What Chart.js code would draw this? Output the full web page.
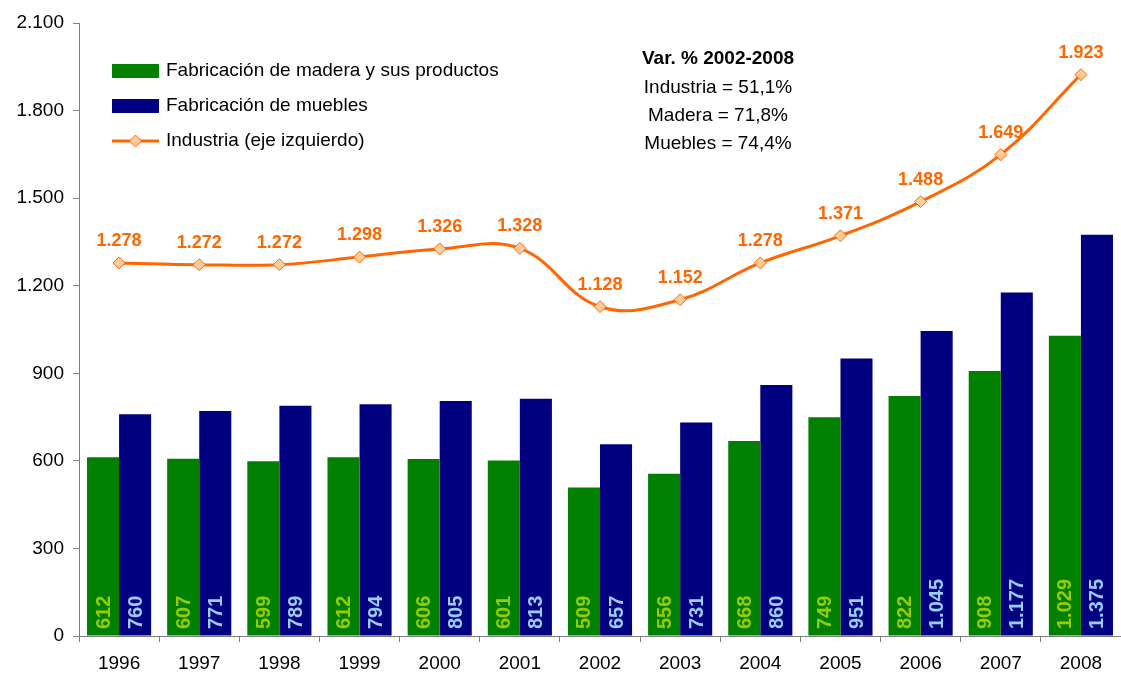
<!DOCTYPE html>
<html>
<head>
<meta charset="utf-8">
<script src="https://cdn.jsdelivr.net/npm/chart.js@4.4.0/dist/chart.umd.min.js"></script>
<style>
  html, body { margin: 0; padding: 0; background: #fff; }
  #wrap { width: 1121px; height: 675px; position: relative; }
</style>
</head>
<body>
<div id="wrap"><canvas id="grafico"></canvas></div>
<script>
// --- datos ---
const anios = ['1996', '1997', '1998', '1999', '2000', '2001', '2002', '2003', '2004', '2005', '2006', '2007', '2008'];
const madera = [612, 607, 599, 612, 606, 601, 509, 556, 668, 749, 822, 908, 1029];
const muebles = [760, 771, 789, 794, 805, 813, 657, 731, 860, 951, 1045, 1177, 1375];
const industria = [1278, 1272, 1272, 1298, 1326, 1328, 1128, 1152, 1278, 1371, 1488, 1649, 1923];
const ejeY = { min: 0, max: 2100, paso: 300 };
const notaTitulo = 'Var. % 2002-2008';
const notaLineas = ['Industria = 51,1%', 'Madera = 71,8%', 'Muebles = 74,4%'];

const FUENTE = '"Liberation Sans", Arial, sans-serif';
const VERDE = '#008000', AZUL = '#000080', NARANJA = '#FF6600';

function miles(v) {
    return String(v).replace(/\B(?=(\d{3})+(?!\d))/g, '.');
}

// etiquetas de valores (barras verticales y linea)
const etiquetasPlugin = {
    id: 'etiquetas',
    afterDatasetsDraw(chart) {
        const ctx = chart.ctx;
        const y0 = chart.scales.y.getPixelForValue(0);
        ctx.save();
        ctx.font = 'bold 20px ' + FUENTE;
        [[0, '#99CC00'], [1, '#99CCFF']].forEach(([i, color]) => {
            const meta = chart.getDatasetMeta(i);
            meta.data.forEach((bar, j) => {
                ctx.save();
                ctx.translate(bar.x, y0 - 7);
                ctx.rotate(-Math.PI / 2);
                ctx.fillStyle = color;
                ctx.textAlign = 'left';
                ctx.textBaseline = 'middle';
                ctx.fillText(miles(chart.data.datasets[i].data[j]), 0, 1);
                ctx.restore();
            });
        });
        const metaL = chart.getDatasetMeta(2);
        ctx.font = 'bold 18px ' + FUENTE;
        ctx.fillStyle = NARANJA;
        ctx.textAlign = 'center';
        ctx.textBaseline = 'middle';
        metaL.data.forEach((pt, j) => {
            ctx.fillText(miles(industria[j]), pt.x, pt.y - 22);
        });
        ctx.restore();
    }
};

// leyenda y nota dentro del grafico
const leyendaPlugin = {
    id: 'leyendaNota',
    afterDraw(chart) {
        const ctx = chart.ctx;
        ctx.save();
        ctx.font = '19px ' + FUENTE;
        ctx.textBaseline = 'middle';
        ctx.textAlign = 'left';
        const sx = 112, tx = 166;
        const filas = [
            { y: 71, tipo: 'caja', color: VERDE, texto: 'Fabricación de madera y sus productos' },
            { y: 106, tipo: 'caja', color: AZUL, texto: 'Fabricación de muebles' },
            { y: 141, tipo: 'linea', color: NARANJA, texto: 'Industria (eje izquierdo)' }
        ];
        filas.forEach(f => {
            if (f.tipo === 'caja') {
                ctx.fillStyle = f.color;
                ctx.fillRect(sx, f.y - 7, 47, 14);
            } else {
                ctx.strokeStyle = f.color;
                ctx.lineWidth = 3;
                ctx.beginPath();
                ctx.moveTo(sx, f.y);
                ctx.lineTo(sx + 47, f.y);
                ctx.stroke();
                const cx = sx + 23.5, r = 6;
                ctx.beginPath();
                ctx.moveTo(cx, f.y - r);
                ctx.lineTo(cx + r, f.y);
                ctx.lineTo(cx, f.y + r);
                ctx.lineTo(cx - r, f.y);
                ctx.closePath();
                ctx.fillStyle = '#FFCC99';
                ctx.fill();
                ctx.lineWidth = 1;
                ctx.stroke();
            }
            ctx.fillStyle = '#000';
            ctx.fillText(f.texto, tx, f.y);
        });

        ctx.textAlign = 'center';
        ctx.font = 'bold 19px ' + FUENTE;
        ctx.fillText(notaTitulo, 718, 59);
        ctx.font = '19px ' + FUENTE;
        notaLineas.forEach((t, i) => ctx.fillText(t, 718, 88 + i * 28));
        ctx.restore();
    }
};

document.addEventListener('DOMContentLoaded', function() {
    const ctx = document.getElementById('grafico').getContext('2d');
    new Chart(ctx, {
        data: {
            labels: anios,
            datasets: [
                {
                    type: 'bar',
                    label: 'Fabricación de madera y sus productos',
                    data: madera,
                    backgroundColor: VERDE,
                    categoryPercentage: 0.8,
                    barPercentage: 1.0,
                    order: 2
                },
                {
                    type: 'bar',
                    label: 'Fabricación de muebles',
                    data: muebles,
                    backgroundColor: AZUL,
                    categoryPercentage: 0.8,
                    barPercentage: 1.0,
                    order: 2
                },
                {
                    type: 'line',
                    label: 'Industria (eje izquierdo)',
                    data: industria,
                    borderColor: NARANJA,
                    borderWidth: 3,
                    tension: 0.4,
                    pointStyle: 'rectRot',
                    pointRadius: 6,
                    pointBackgroundColor: '#FFCC99',
                    pointBorderColor: NARANJA,
                    pointBorderWidth: 1,
                    order: 0
                }
            ]
        },
        options: {
            responsive: true,
            maintainAspectRatio: false,
            animation: false,
            layout: { autoPadding: false, padding: { top: 23, right: 0, left: 0, bottom: 0 } },
            plugins: {
                legend: { display: false },
                tooltip: { enabled: false }
            },
            scales: {
                x: {
                    offset: true,
                    grid: { display: true, drawOnChartArea: false, offset: true, color: '#808080', tickLength: 6 },
                    border: { color: '#808080', width: 1 },
                    ticks: { color: '#000', font: { family: FUENTE, size: 19 }, padding: 10, maxRotation: 0 },
                    afterFit(scale) { scale.height = 39; }
                },
                y: {
                    min: ejeY.min,
                    max: ejeY.max,
                    grid: { display: true, drawOnChartArea: false, color: '#808080', tickLength: 6 },
                    border: { color: '#808080', width: 1 },
                    ticks: {
                        stepSize: ejeY.paso,
                        color: '#000',
                        font: { family: FUENTE, size: 19 },
                        padding: 9,
                        callback: v => miles(v)
                    },
                    afterFit(scale) { scale.width = 79; }
                }
            }
        },
        plugins: [etiquetasPlugin, leyendaPlugin]
    });
});
</script>
</body>
</html>
